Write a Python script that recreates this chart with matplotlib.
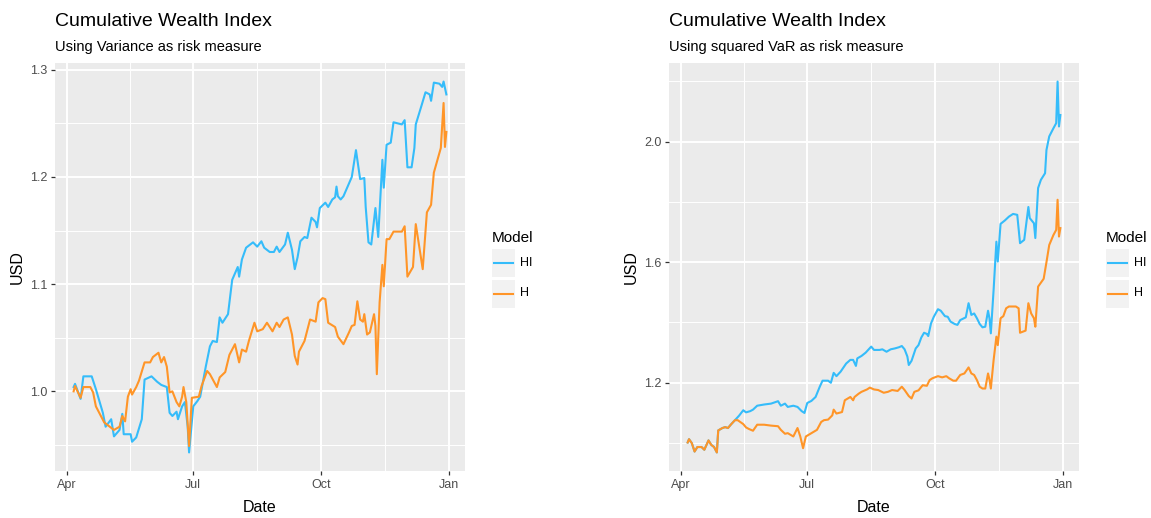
import pandas as pd
import matplotlib.pyplot as plt
from matplotlib.patches import Rectangle
from matplotlib.lines import Line2D
from matplotlib.ticker import FixedLocator, FixedFormatter
import matplotlib.dates as mdates

plt.rcParams['font.family'] = ['Liberation Sans', 'DejaVu Sans']

# --- data (year assumed 2017) ---
left_hi_dates = ["Apr 06", "Apr 07", "Apr 11", "Apr 13", "Apr 19", "Apr 22", "Apr 27", "Apr 29",
                 "May 03", "May 05", "May 09", "May 11", "May 12", "May 17", "May 18", "May 21",
                 "May 25", "May 27", "Jun 01", "Jun 05", "Jun 08", "Jun 12", "Jun 14", "Jun 16",
                 "Jun 19", "Jun 20", "Jun 23", "Jun 25", "Jun 27", "Jun 28", "Jul 01", "Jul 04",
                 "Jul 06", "Jul 10", "Jul 13", "Jul 15", "Jul 18", "Jul 20", "Jul 22", "Jul 26",
                 "Jul 29", "Aug 02", "Aug 03", "Aug 05", "Aug 08", "Aug 13", "Aug 16", "Aug 19",
                 "Aug 21", "Aug 25", "Aug 28", "Aug 30", "Sep 01", "Sep 05", "Sep 07", "Sep 10",
                 "Sep 12", "Sep 14", "Sep 16", "Sep 19", "Sep 21", "Sep 24", "Sep 27", "Sep 28",
                 "Sep 30", "Oct 04", "Oct 06", "Oct 09", "Oct 11", "Oct 12", "Oct 13", "Oct 15",
                 "Oct 17", "Oct 20", "Oct 23", "Oct 26", "Oct 29", "Nov 01", "Nov 02", "Nov 04",
                 "Nov 06", "Nov 09", "Nov 11", "Nov 14", "Nov 15", "Nov 17", "Nov 20", "Nov 22",
                 "Nov 28", "Nov 30", "Dec 02", "Dec 05", "Dec 07", "Dec 08", "Dec 12", "Dec 15",
                 "Dec 18", "Dec 19", "Dec 21", "Dec 25", "Dec 27", "Dec 28", "Dec 30"]
left_hi = [1.004, 1.007, 0.993, 1.014, 1.014, 1.002, 0.980, 0.967,
           0.974, 0.958, 0.964, 0.979, 0.960, 0.960, 0.953, 0.957,
           0.974, 1.011, 1.014, 1.009, 1.006, 1.004, 0.980, 0.977,
           0.981, 0.974, 0.986, 0.990, 0.967, 0.943, 0.986, 0.991,
           0.995, 1.023, 1.042, 1.047, 1.046, 1.069, 1.064, 1.072,
           1.104, 1.116, 1.107, 1.123, 1.134, 1.139, 1.135, 1.140,
           1.134, 1.130, 1.130, 1.135, 1.130, 1.137, 1.148, 1.132,
           1.114, 1.125, 1.140, 1.144, 1.143, 1.162, 1.158, 1.153,
           1.171, 1.176, 1.172, 1.179, 1.181, 1.191, 1.182, 1.179,
           1.182, 1.191, 1.200, 1.225, 1.198, 1.199, 1.172, 1.139,
           1.137, 1.171, 1.144, 1.216, 1.190, 1.230, 1.232, 1.251,
           1.249, 1.253, 1.209, 1.209, 1.227, 1.249, 1.266, 1.279,
           1.277, 1.271, 1.288, 1.287, 1.284, 1.289, 1.277]

left_h_dates = ["Apr 06", "Apr 07", "Apr 11", "Apr 13", "Apr 18", "Apr 20", "Apr 22", "Apr 26",
                "Apr 28", "May 02", "May 05", "May 09", "May 11", "May 13", "May 15", "May 17",
                "May 18", "May 21", "May 23", "May 27", "May 31", "Jun 02", "Jun 06", "Jun 08",
                "Jun 10", "Jun 12", "Jun 14", "Jun 16", "Jun 19", "Jun 21", "Jun 23", "Jun 24",
                "Jun 26", "Jun 28", "Jun 30", "Jul 05", "Jul 07", "Jul 11", "Jul 13", "Jul 18",
                "Jul 20", "Jul 24", "Jul 27", "Jul 31", "Aug 03", "Aug 05", "Aug 08", "Aug 10",
                "Aug 14", "Aug 16", "Aug 20", "Aug 23", "Aug 27", "Aug 30", "Sep 01", "Sep 04",
                "Sep 07", "Sep 10", "Sep 12", "Sep 14", "Sep 15", "Sep 19", "Sep 23", "Sep 27",
                "Sep 29", "Oct 02", "Oct 04", "Oct 06", "Oct 11", "Oct 13", "Oct 17", "Oct 21",
                "Oct 23", "Oct 25", "Oct 27", "Oct 29", "Oct 31", "Nov 01", "Nov 03", "Nov 05",
                "Nov 08", "Nov 09", "Nov 10", "Nov 12", "Nov 14", "Nov 15", "Nov 17", "Nov 19",
                "Nov 22", "Nov 28", "Nov 30", "Dec 02", "Dec 06", "Dec 08", "Dec 13", "Dec 16",
                "Dec 19", "Dec 21", "Dec 26", "Dec 28", "Dec 29", "Dec 30"]
left_h = [1.000, 1.005, 0.994, 1.004, 1.004, 0.999, 0.986, 0.976,
          0.971, 0.967, 0.964, 0.967, 0.977, 0.972, 0.995, 1.002,
          0.997, 1.004, 1.010, 1.027, 1.027, 1.032, 1.036, 1.027,
          1.032, 1.023, 0.999, 1.000, 0.990, 0.986, 0.995, 1.004,
          0.990, 0.949, 0.994, 0.995, 1.005, 1.019, 1.016, 1.004,
          1.013, 1.018, 1.034, 1.044, 1.027, 1.039, 1.037, 1.047,
          1.064, 1.056, 1.058, 1.064, 1.056, 1.064, 1.060, 1.067,
          1.069, 1.053, 1.033, 1.025, 1.037, 1.047, 1.067, 1.065,
          1.083, 1.087, 1.086, 1.064, 1.060, 1.051, 1.044, 1.055,
          1.061, 1.062, 1.084, 1.067, 1.065, 1.072, 1.053, 1.055,
          1.072, 1.061, 1.016, 1.083, 1.118, 1.098, 1.142, 1.142,
          1.149, 1.149, 1.154, 1.107, 1.116, 1.156, 1.114, 1.167,
          1.174, 1.204, 1.227, 1.269, 1.228, 1.242]

right_hi_dates = ["Apr 06", "Apr 07", "Apr 09", "Apr 11", "Apr 13", "Apr 16", "Apr 18", "Apr 21",
                  "Apr 23", "Apr 25", "Apr 27", "Apr 28", "May 01", "May 03", "May 05", "May 07",
                  "May 10", "May 13", "May 16", "May 18", "May 21", "May 23", "May 26", "May 31",
                  "Jun 05", "Jun 10", "Jun 12", "Jun 15", "Jun 17", "Jun 21", "Jun 24", "Jun 27",
                  "Jun 29", "Jul 01", "Jul 04", "Jul 07", "Jul 10", "Jul 12", "Jul 16", "Jul 18",
                  "Jul 20", "Jul 22", "Jul 25", "Jul 29", "Aug 01", "Aug 03", "Aug 05", "Aug 06",
                  "Aug 09", "Aug 12", "Aug 16", "Aug 18", "Aug 22", "Aug 24", "Aug 27", "Aug 30",
                  "Sep 02", "Sep 05", "Sep 07", "Sep 09", "Sep 11", "Sep 12", "Sep 14", "Sep 17",
                  "Sep 19", "Sep 21", "Sep 23", "Sep 25", "Sep 26", "Sep 28", "Sep 30", "Oct 03",
                  "Oct 05", "Oct 08", "Oct 10", "Oct 12", "Oct 15", "Oct 17", "Oct 19", "Oct 23",
                  "Oct 25", "Oct 27", "Oct 29", "Oct 31", "Nov 02", "Nov 04", "Nov 06", "Nov 08",
                  "Nov 09", "Nov 10", "Nov 12", "Nov 14", "Nov 15", "Nov 17", "Nov 20", "Nov 23",
                  "Nov 26", "Nov 29", "Dec 01", "Dec 04", "Dec 07", "Dec 08", "Dec 11", "Dec 12",
                  "Dec 14", "Dec 16", "Dec 19", "Dec 20", "Dec 22", "Dec 25", "Dec 27", "Dec 28",
                  "Dec 29", "Dec 30"]
right_hi = [1.002, 1.013, 1.000, 0.972, 0.987, 0.987, 0.978, 1.009,
            0.994, 0.987, 0.969, 1.042, 1.050, 1.053, 1.050, 1.061,
            1.076, 1.091, 1.109, 1.102, 1.106, 1.111, 1.124, 1.128,
            1.131, 1.139, 1.124, 1.131, 1.120, 1.124, 1.120, 1.106,
            1.100, 1.133, 1.140, 1.153, 1.187, 1.207, 1.207, 1.200,
            1.233, 1.222, 1.237, 1.264, 1.276, 1.276, 1.256, 1.281,
            1.289, 1.300, 1.320, 1.309, 1.309, 1.311, 1.303, 1.311,
            1.314, 1.318, 1.322, 1.311, 1.287, 1.259, 1.273, 1.314,
            1.325, 1.350, 1.366, 1.362, 1.355, 1.397, 1.419, 1.444,
            1.439, 1.421, 1.419, 1.403, 1.395, 1.392, 1.408, 1.417,
            1.464, 1.425, 1.430, 1.414, 1.395, 1.384, 1.386, 1.439,
            1.414, 1.364, 1.508, 1.668, 1.602, 1.727, 1.738, 1.751,
            1.760, 1.757, 1.663, 1.674, 1.783, 1.746, 1.729, 1.680,
            1.846, 1.873, 1.895, 1.972, 2.017, 2.044, 2.061, 2.199,
            2.050, 2.088]

right_h_dates = ["Apr 06", "Apr 07", "Apr 09", "Apr 11", "Apr 13", "Apr 16", "Apr 18", "Apr 21",
                 "Apr 23", "Apr 25", "Apr 27", "Apr 28", "May 01", "May 03", "May 05", "May 07",
                 "May 10", "May 12", "May 16", "May 18", "May 20", "May 23", "May 26", "May 31",
                 "Jun 05", "Jun 10", "Jun 12", "Jun 15", "Jun 17", "Jun 21", "Jun 24", "Jun 26",
                 "Jun 28", "Jun 30", "Jul 04", "Jul 08", "Jul 11", "Jul 13", "Jul 16", "Jul 19",
                 "Jul 20", "Jul 22", "Jul 26", "Jul 28", "Aug 01", "Aug 03", "Aug 04", "Aug 07",
                 "Aug 09", "Aug 13", "Aug 15", "Aug 18", "Aug 21", "Aug 25", "Aug 28", "Aug 31",
                 "Sep 04", "Sep 07", "Sep 09", "Sep 12", "Sep 14", "Sep 16", "Sep 19", "Sep 22",
                 "Sep 25", "Sep 27", "Sep 29", "Oct 03", "Oct 06", "Oct 09", "Oct 11", "Oct 14",
                 "Oct 16", "Oct 19", "Oct 22", "Oct 25", "Oct 27", "Oct 29", "Oct 31", "Nov 02",
                 "Nov 04", "Nov 06", "Nov 08", "Nov 09", "Nov 10", "Nov 12", "Nov 14", "Nov 15",
                 "Nov 17", "Nov 19", "Nov 21", "Nov 23", "Nov 28", "Nov 30", "Dec 01", "Dec 05",
                 "Dec 07", "Dec 09", "Dec 11", "Dec 12", "Dec 14", "Dec 18", "Dec 20", "Dec 22",
                 "Dec 25", "Dec 27", "Dec 28", "Dec 29", "Dec 30"]
right_h = [1.002, 1.013, 1.000, 0.972, 0.987, 0.987, 0.978, 1.009,
           0.994, 0.987, 0.969, 1.042, 1.050, 1.053, 1.050, 1.061,
           1.076, 1.076, 1.063, 1.052, 1.047, 1.041, 1.061, 1.061,
           1.058, 1.056, 1.044, 1.031, 1.033, 1.022, 1.050, 1.022,
           0.983, 1.022, 1.033, 1.044, 1.070, 1.076, 1.078, 1.092,
           1.111, 1.098, 1.103, 1.142, 1.153, 1.142, 1.153, 1.164,
           1.170, 1.178, 1.184, 1.178, 1.176, 1.167, 1.170, 1.176,
           1.173, 1.187, 1.176, 1.156, 1.148, 1.170, 1.175, 1.192,
           1.190, 1.209, 1.215, 1.222, 1.218, 1.222, 1.215, 1.207,
           1.207, 1.226, 1.231, 1.251, 1.231, 1.226, 1.209, 1.187,
           1.181, 1.181, 1.231, 1.211, 1.181, 1.275, 1.353, 1.325,
           1.414, 1.421, 1.447, 1.453, 1.453, 1.447, 1.366, 1.373,
           1.464, 1.430, 1.414, 1.386, 1.519, 1.545, 1.600, 1.657,
           1.690, 1.707, 1.807, 1.685, 1.713]

x_tick_dates = ["2017-04-01", "2017-07-01", "2017-10-01", "2018-01-01"]
x_tick_labels = ["Apr", "Jul", "Oct", "Jan"]
left_yticks = [1.0, 1.1, 1.2, 1.3]
left_yminor = [0.95, 1.05, 1.15, 1.25]
right_yticks = [1.2, 1.6, 2.0]
right_yminor = [1.0, 1.4, 1.8, 2.2]
titles = ["Cumulative Wealth Index", "Cumulative Wealth Index"]
subtitles = ["Using Variance as risk measure", "Using squared VaR as risk measure"]
models = ["HI", "H"]

HI_COLOR = "#35BCFA"
H_COLOR = "#FF9528"


def parse(days):
    return pd.to_datetime(["2017 " + d for d in days], format="%Y %b %d")


W, H = 1151, 518
fig = plt.figure(figsize=(W / 100, H / 100), dpi=100)


def fx(px):
    return px / W


def fy(py):
    return 1 - py / H


panels = [
    (left_hi_dates, left_hi, left_h_dates, left_h, left_yticks, left_yminor),
    (right_hi_dates, right_hi, right_h_dates, right_h, right_yticks, right_yminor),
]

major_x = mdates.date2num(pd.to_datetime(x_tick_dates))
minor_x = (major_x[:-1] + major_x[1:]) / 2

for i, (hd, hv, od, ov, yt, ym) in enumerate(panels):
    off = i * 614
    ax = fig.add_axes([fx(55 + off), fy(471), fx(410), 408 / H])
    ax.set_facecolor("#EBEBEB")
    ax.plot(parse(hd), hv, color=HI_COLOR, lw=1.5)
    ax.plot(parse(od), ov, color=H_COLOR, lw=1.5)
    ax.margins(0.05)

    ax.xaxis.set_major_locator(FixedLocator(major_x))
    ax.xaxis.set_major_formatter(FixedFormatter(x_tick_labels))
    ax.xaxis.set_minor_locator(FixedLocator(minor_x))
    ax.yaxis.set_major_locator(FixedLocator(yt))
    ax.yaxis.set_major_formatter(FixedFormatter([f"{v:.1f}" for v in yt]))
    ax.yaxis.set_minor_locator(FixedLocator(ym))

    ax.grid(which="major", color="white", lw=1.4)
    ax.grid(which="minor", color="white", lw=0.7)
    ax.set_axisbelow(True)
    for s in ax.spines.values():
        s.set_visible(False)
    ax.tick_params(which="major", length=3, width=0.9, color="#333333",
                   labelcolor="#4D4D4D", labelsize=9, pad=2.5)
    ax.tick_params(which="minor", length=0)

    # titles
    fig.text(fx(55 + off), fy(26), titles[i], size=14, va="baseline", ha="left")
    fig.text(fx(55 + off), fy(51), subtitles[i], size=10.5, va="baseline", ha="left")
    fig.text(fx(17 + off), fy(267), "USD", size=11.5, rotation=90, va="center", ha="center")
    fig.text(fx(260 + off), fy(508), "Date", size=11.5, va="center", ha="center")

    # legend
    fig.text(fx(491.5 + off), fy(241.5), "Model", size=11, va="baseline", ha="left")
    for j, (name, col) in enumerate(zip(models, [HI_COLOR, H_COLOR])):
        top = 248.5 + j * 31
        fig.add_artist(Rectangle((fx(492 + off), fy(top + 28)), fx(23), 28 / H,
                                 transform=fig.transFigure, color="#F2F2F2", lw=0))
        yc = top + 14
        fig.add_artist(Line2D([fx(494 + off), fx(513 + off)], [fy(yc), fy(yc)],
                              transform=fig.transFigure, color=col, lw=1.5))
        fig.text(fx(520 + off), fy(yc), name, size=9, va="center", ha="left")

fig.savefig("out.png", dpi=100)
